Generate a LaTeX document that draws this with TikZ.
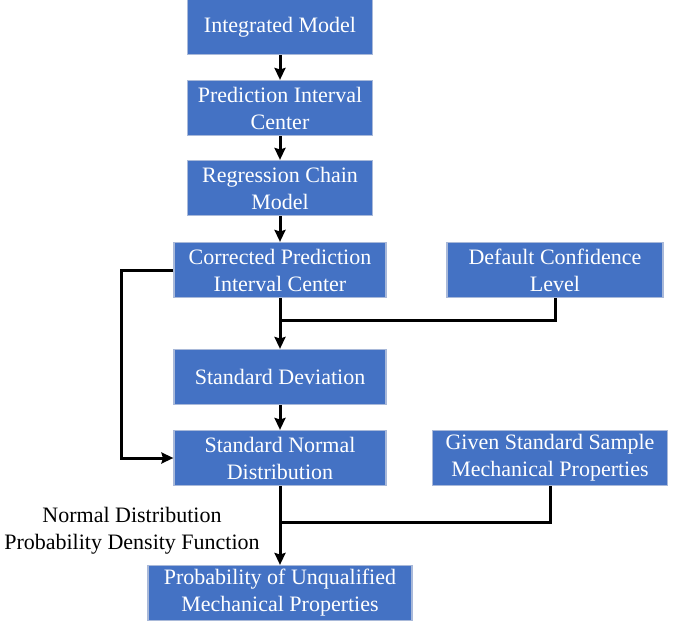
\documentclass[tikz,border=0pt]{standalone}
\usepackage{fontspec}
\setmainfont{Liberation Serif}
\newfontfamily\timesfont{Liberation Serif}
\usepackage{tikz}
\usetikzlibrary{arrows.meta}

\definecolor{boxblue}{HTML}{4472C4}
\definecolor{boxedge}{HTML}{A9B9D9}

\begin{document}
\begin{tikzpicture}[x=1pt,y=1pt,node distance=40.5pt,>={Stealth[length=6pt,width=5.5pt,inset=0.8pt]},
    line width=1.5pt,font=\timesfont\fontsize{11}{13.5}\selectfont]
  \tikzstyle{block}=[rectangle,draw=boxedge,line width=0.6pt,fill=boxblue,
        text=white,align=center,minimum height=27.5pt,inner sep=1pt]
  \tikzstyle{link}=[->,line width=1.5pt]
    \useasboundingbox (0,0) rectangle (342.5,-310.5);
    \node [block,minimum width=92.5pt] (im) at (140,-13.5) {Integrated Model};
    \node [block,minimum width=92.5pt] (pic) [below of=im] {Prediction Interval\\Center};
    \node [block,minimum width=92.5pt] (rcm) [below of=pic, node distance=40pt] {Regression Chain\\Model};
    \node [block,minimum width=106pt] (cpic) [below of=rcm, node distance=41pt] {Corrected Prediction\\Interval Center};
    \node [block,minimum width=108pt] (dcl) [right of=cpic, node distance=137.5pt] {Default Confidence\\Level};
    \node [block,minimum width=106pt] (sd) [below of=cpic, node distance=53.5pt] {Standard Deviation};
    \node [block,minimum width=106pt] (snd) [below of=sd] {Standard Normal\\Distribution};
    \node [block,minimum width=117.5pt] (gsmp) [right of=snd, node distance=135pt] {Given Standard Sample\\Mechanical Properties};
    \node [block,minimum width=132pt] (puq) [below of=snd, node distance=67.5pt] {Probability of Unqualified\\Mechanical Properties};
    \node [align=center] (ndpdf) at (66,-265.5) {Normal Distribution\\Probability Density Function};
    \coordinate (j1) at (140,-160);
    \coordinate (j2) at (140,-261);
    \draw [link] (im) -- (pic);
    \draw [link] (pic) -- (rcm);
    \draw [link] (rcm) -- (cpic);
    \draw [link] (cpic) -- (sd);
    \draw (dcl.south) |- (j1);
    \draw [link] (sd) -- (snd);
    \draw [link] (cpic.west) -- ++(-26pt,0) |- (snd.west);
    \draw [link] (snd) -- (puq);
    \draw (gsmp.south) |- (j2);
\end{tikzpicture}
\end{document}
